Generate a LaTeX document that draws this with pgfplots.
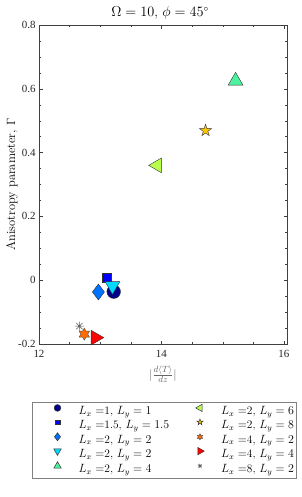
\documentclass[border=0pt]{standalone}
\usepackage{fontspec}
\usepackage{pgfplots}
\pgfplotsset{compat=1.18}
\newfontfamily\tickfont{Liberation Serif}
\definecolor{c1}{rgb}{0,0,0.55}
\definecolor{c2}{rgb}{0,0,1}
\definecolor{c3}{rgb}{0,0.45,1}
\definecolor{c4}{rgb}{0,0.85,1}
\definecolor{c5}{rgb}{0.3,0.95,0.62}
\definecolor{c6}{rgb}{0.72,1,0.3}
\definecolor{c7}{rgb}{1,0.78,0}
\definecolor{c8}{rgb}{1,0.42,0}
\definecolor{c9}{rgb}{1,0,0}
\definecolor{c10}{rgb}{0.35,0.35,0.35}
\definecolor{axgray}{rgb}{0.25,0.25,0.25}
\pgfdeclareplotmark{pentagram}{%
  \pgfpathmoveto{\pgfpointpolar{90}{\pgfplotmarksize}}%
  \pgfpathlineto{\pgfpointpolar{126}{0.382\pgfplotmarksize}}%
  \pgfpathlineto{\pgfpointpolar{162}{\pgfplotmarksize}}%
  \pgfpathlineto{\pgfpointpolar{198}{0.382\pgfplotmarksize}}%
  \pgfpathlineto{\pgfpointpolar{234}{\pgfplotmarksize}}%
  \pgfpathlineto{\pgfpointpolar{270}{0.382\pgfplotmarksize}}%
  \pgfpathlineto{\pgfpointpolar{306}{\pgfplotmarksize}}%
  \pgfpathlineto{\pgfpointpolar{342}{0.382\pgfplotmarksize}}%
  \pgfpathlineto{\pgfpointpolar{18}{\pgfplotmarksize}}%
  \pgfpathlineto{\pgfpointpolar{54}{0.382\pgfplotmarksize}}%
  \pgfpathclose\pgfusepathqfillstroke}
\pgfdeclareplotmark{hexagram}{%
  \pgfpathmoveto{\pgfpointpolar{90}{\pgfplotmarksize}}%
  \pgfpathlineto{\pgfpointpolar{120}{0.5774\pgfplotmarksize}}%
  \pgfpathlineto{\pgfpointpolar{150}{\pgfplotmarksize}}%
  \pgfpathlineto{\pgfpointpolar{180}{0.5774\pgfplotmarksize}}%
  \pgfpathlineto{\pgfpointpolar{210}{\pgfplotmarksize}}%
  \pgfpathlineto{\pgfpointpolar{240}{0.5774\pgfplotmarksize}}%
  \pgfpathlineto{\pgfpointpolar{270}{\pgfplotmarksize}}%
  \pgfpathlineto{\pgfpointpolar{300}{0.5774\pgfplotmarksize}}%
  \pgfpathlineto{\pgfpointpolar{330}{\pgfplotmarksize}}%
  \pgfpathlineto{\pgfpointpolar{0}{0.5774\pgfplotmarksize}}%
  \pgfpathlineto{\pgfpointpolar{30}{\pgfplotmarksize}}%
  \pgfpathlineto{\pgfpointpolar{60}{0.5774\pgfplotmarksize}}%
  \pgfpathclose\pgfusepathqfillstroke}
\pgfdeclareplotmark{mstar}{%
  \pgfpathmoveto{\pgfqpoint{-\pgfplotmarksize}{0pt}}\pgfpathlineto{\pgfqpoint{\pgfplotmarksize}{0pt}}%
  \pgfpathmoveto{\pgfqpoint{0pt}{-\pgfplotmarksize}}\pgfpathlineto{\pgfqpoint{0pt}{\pgfplotmarksize}}%
  \pgfpathmoveto{\pgfqpoint{-0.707\pgfplotmarksize}{-0.707\pgfplotmarksize}}\pgfpathlineto{\pgfqpoint{0.707\pgfplotmarksize}{0.707\pgfplotmarksize}}%
  \pgfpathmoveto{\pgfqpoint{-0.707\pgfplotmarksize}{0.707\pgfplotmarksize}}\pgfpathlineto{\pgfqpoint{0.707\pgfplotmarksize}{-0.707\pgfplotmarksize}}%
  \pgfusepathqstroke}
\begin{document}
\begin{tikzpicture}
\useasboundingbox (-39bp,-153bp) rectangle (263bp,344bp);
\begin{axis}[
  at={(0,0)}, anchor=south west, scale only axis,
  width=248bp, height=319bp,
  xmin=12, xmax=16.05, ymin=-0.2, ymax=0.8,
  xtick={12,14,16}, xticklabels={12,14,16},
  ytick={-0.2,0,0.2,0.4,0.6,0.8}, yticklabels={-0.2,0,0.2,0.4,0.6,0.8},
  minor x tick num=3, minor y tick num=3,
  tick align=inside, major tick length=3.5bp, minor tick length=2.2bp,
  axis line style={axgray, line width=0.5pt},
  every tick/.style={axgray, line width=0.4pt},
  ticklabel style={font=\tickfont\fontsize{11}{12}\selectfont, text=black!85},
  xticklabel style={yshift=-3bp},
  xlabel={$|\frac{d\langle T\rangle}{dz}|$},
  xlabel style={at={(axis description cs:0.5,-0.094)}, anchor=center, font=\fontsize{12.5}{14}\selectfont, text=black!60},
  ylabel={Anisotropy parameter, $\Gamma$},
  ylabel style={at={(axis description cs:-0.109,0.5)}, anchor=center, font=\fontsize{12.5}{14}\selectfont},
  legend columns=5, transpose legend,
  legend style={at={(axis description cs:-0.02823,-0.18182)}, anchor=north west,
    draw=black!50, line width=0.5pt, inner xsep=0pt, inner ysep=2pt, row sep=0pt, column sep=0pt,
    font=\fontsize{11.5}{13}\selectfont,
    nodes={inner sep=0pt, text width=75bp, align=left, text height=10bp, text depth=4.25bp},
    /tikz/column 2/.style={nodes={text width=96bp}},
    /tikz/column 4/.style={nodes={text width=75bp}}},
  legend image code/.code={\path (0bp,0bp) (46bp,0bp); \draw[#1, every mark/.append style={scale=0.5}] plot coordinates {(25bp,3.5bp)};},
]
\addplot[only marks, mark=*, mark size=6.8bp, fill=c1, draw=black!80] coordinates {(13.22,-0.036)};
\addlegendentry{$L_x =$1, $L_y = 1$}
\addplot[only marks, mark=square*, mark size=4.6bp, fill=c2, draw=black!80] coordinates {(13.11,0.009)};
\addlegendentry{$L_x =$1.5, $L_y = 1.5$}
\addplot[only marks, mark=diamond*, mark size=8bp, fill=c3, draw=black!80] coordinates {(12.97,-0.037)};
\addlegendentry{$L_x =$2, $L_y = 2$}
\addplot[only marks, mark=triangle*, mark size=8.5bp, mark options={rotate=180}, fill=c4, draw=black!80] coordinates {(13.2,-0.018)};
\addlegendentry{$L_x =$2, $L_y = 2$}
\addplot[only marks, mark=triangle*, mark size=8.5bp, fill=c5, draw=black!80] coordinates {(15.21,0.625)};
\addlegendentry{$L_x =$2, $L_y = 4$}
\addplot[only marks, mark=triangle*, mark size=8.5bp, mark options={rotate=90}, fill=c6, draw=black!80] coordinates {(13.93,0.36)};
\addlegendentry{$L_x =$2, $L_y = 6$}
\addplot[only marks, mark=pentagram, mark size=6.3bp, fill=c7, draw=black!80] coordinates {(14.72,0.469)};
\addlegendentry{$L_x =$2, $L_y = 8$}
\addplot[only marks, mark=hexagram, mark size=6bp, fill=c8, draw=black!70] coordinates {(12.74,-0.169)};
\addlegendentry{$L_x =$4, $L_y = 2$}
\addplot[only marks, mark=triangle*, mark size=8.5bp, mark options={rotate=-90}, fill=c9, draw=black!80] coordinates {(12.92,-0.18)};
\addlegendentry{$L_x =$4, $L_y = 4$}
\addplot[only marks, mark=mstar, mark size=4.5bp, draw=c10, line width=0.5pt] coordinates {(12.66,-0.144)};
\addlegendentry{$L_x =$8, $L_y = 2$}
\end{axis}
\node[font=\fontsize{13.5}{15}\selectfont, anchor=base] at (121bp,327bp) {$\Omega = 10$, $\phi = 45^{\circ}$};
\end{tikzpicture}
\end{document}
